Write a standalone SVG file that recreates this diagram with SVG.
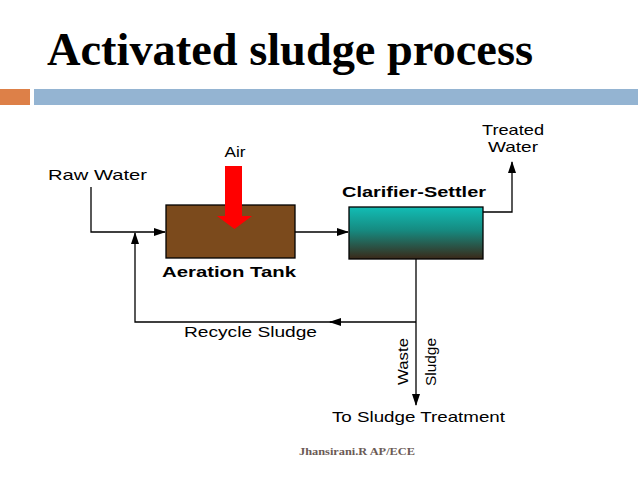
<svg xmlns="http://www.w3.org/2000/svg" width="638" height="479" viewBox="0 0 638 479">
<defs>
<linearGradient id="clar" x1="0" y1="0" x2="0" y2="1">
<stop offset="0" stop-color="#12bdb5"/>
<stop offset="0.45" stop-color="#168a80"/>
<stop offset="1" stop-color="#3a2818"/>
</linearGradient>
<marker id="ah" markerWidth="12" markerHeight="8" refX="11" refY="4" orient="auto" markerUnits="userSpaceOnUse">
<path d="M0,0 L12,4 L0,8 Z" fill="#000"/>
</marker>
<style>
.lbl{font-family:"Liberation Sans",Arial,sans-serif;font-size:15px;fill:#000}
.bold{font-family:"Liberation Sans",Arial,sans-serif;font-size:15px;font-weight:bold;fill:#000}
.ln{stroke:#000;stroke-width:1.3;fill:none}
</style>
</defs>
<rect width="638" height="479" fill="#fff"/>
<text x="47" y="65" font-family="'Liberation Serif','Times New Roman',serif" font-weight="bold" font-size="46" textLength="486" lengthAdjust="spacingAndGlyphs" fill="#000">Activated sludge process</text>
<rect x="0" y="89" width="30" height="16" fill="#dd8048"/>
<rect x="34" y="89" width="604" height="16" fill="#94b4d2"/>

<g id="connectors">
<polyline class="ln" points="91,187 91,232 165,232" marker-end="url(#ah)"/>
<polyline class="ln" points="295,232 348,232" marker-end="url(#ah)"/>
<polyline class="ln" points="483,212 512,212 512,162" marker-end="url(#ah)"/>
<polyline class="ln" points="416,259 416,405" marker-end="url(#ah)"/>
<line class="ln" x1="416" y1="322" x2="330" y2="322" marker-end="url(#ah)"/>
<polyline class="ln" points="332,322 135,322 135,233" marker-end="url(#ah)"/>
</g>

<g id="raw-water"><text class="lbl" x="48" y="180" textLength="99" lengthAdjust="spacingAndGlyphs">Raw Water</text></g>

<g id="aeration-tank">
<rect x="166" y="205" width="129" height="53" fill="#7b4a1c" stroke="#000" stroke-width="1.3"/>
<text class="bold" x="229" y="277" text-anchor="middle" textLength="134" lengthAdjust="spacingAndGlyphs">Aeration Tank</text>
</g>

<g id="air">
<text class="lbl" x="235" y="157" text-anchor="middle" textLength="21" lengthAdjust="spacingAndGlyphs">Air</text>
<polygon points="225,166 242,166 242,216 252,216 234.5,229 217,216 225,216" fill="#ff0000"/>
</g>

<g id="clarifier">
<rect x="349" y="207" width="134" height="52" fill="url(#clar)" stroke="#000" stroke-width="1.3"/>
<text class="bold" x="414" y="197" text-anchor="middle" textLength="144" lengthAdjust="spacingAndGlyphs">Clarifier-Settler</text>
</g>

<g id="treated-water">
<text class="lbl" x="513" y="135" text-anchor="middle" textLength="62" lengthAdjust="spacingAndGlyphs">Treated</text>
<text class="lbl" x="513" y="152" text-anchor="middle" textLength="50" lengthAdjust="spacingAndGlyphs">Water</text>
</g>

<g id="recycle-label"><text class="lbl" x="184" y="337" textLength="133" lengthAdjust="spacingAndGlyphs">Recycle Sludge</text></g>

<g id="waste-sludge">
<text class="lbl" transform="translate(408,385) rotate(-90)" textLength="47" lengthAdjust="spacingAndGlyphs">Waste</text>
<text class="lbl" transform="translate(436,386) rotate(-90)" textLength="48" lengthAdjust="spacingAndGlyphs">Sludge</text>
</g>

<g id="to-treatment"><text class="lbl" x="332" y="422" textLength="173" lengthAdjust="spacingAndGlyphs">To Sludge Treatment</text></g>

<text x="357" y="455" text-anchor="middle" font-family="'Liberation Serif','Times New Roman',serif" font-weight="bold" font-size="11" textLength="116" lengthAdjust="spacingAndGlyphs" fill="#6b5a55">Jhansirani.R AP/ECE</text>
</svg>
